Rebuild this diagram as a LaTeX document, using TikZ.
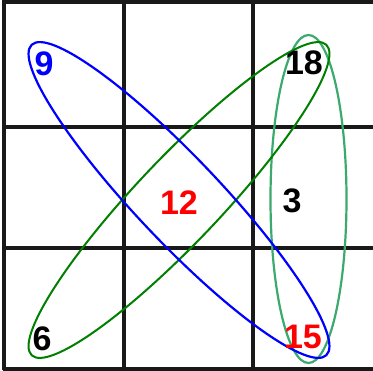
\documentclass[tikz,border=0pt]{standalone}
\usepackage{fontspec}
\setmainfont{Liberation Sans}
\begin{document}
\begin{tikzpicture}[x=1pt,y=-1pt,
  gridline/.style={line width=3.2pt,black!90},
  num/.style={font=\fontsize{34}{34}\selectfont\bfseries, inner sep=0pt, anchor=center},
  blueell/.style={draw=blue, line width=2.2pt},
  greenell/.style={draw=green!50!black, line width=2pt},
  lightell/.style={draw={rgb,255:red,60;green,170;blue,110}, line width=2.2pt}
]
\useasboundingbox (0,0) rectangle (373,371);
\fill[white] (0,0) rectangle (373,371);
% grid
\draw[gridline] (4,0.5) -- (4,370.5);
\draw[gridline] (124,0.5) -- (124,370.5);
\draw[gridline] (253,0.5) -- (253,370.5);
\draw[gridline] (2.5,2) -- (373,2);
\draw[gridline] (2.5,127) -- (373,127);
\draw[gridline] (2.5,248) -- (373,248);
\draw[gridline] (2.5,369) -- (373,369);
% ellipses
\coordinate (c) at (179,200);
\coordinate (cv) at (308.5,199);
\draw[lightell] (cv) ellipse [x radius=38, y radius=164];
\draw[greenell, rotate around={46.5:(c)}] (c) ellipse [x radius=214, y radius=42];
\draw[blueell, rotate around={-46.5:(c)}] (c) ellipse [x radius=214, y radius=42];
% numbers
\node[num, text=blue] (n9) at (44,64) {9};
\node[num] (n18) at (304,63) {18};
\node[num, text=red] (n12) at (179,203) {12};
\node[num] (n3) at (292,201) {3};
\node[num] (n6) at (42,339) {6};
\node[num, text=red] (n15) at (303,337) {15};
\end{tikzpicture}
\end{document}
